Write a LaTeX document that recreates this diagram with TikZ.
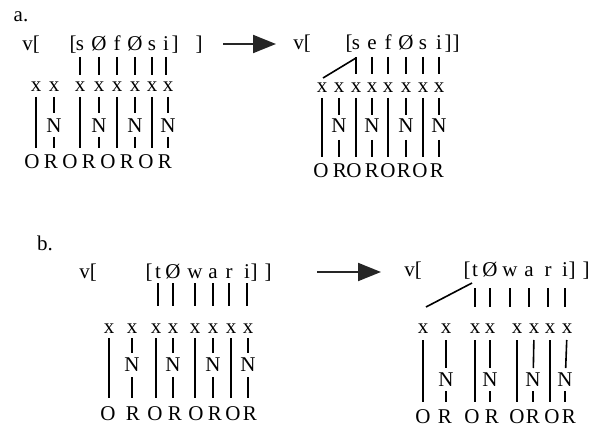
\documentclass[tikz,border=0pt]{standalone}
\usepackage{fontspec}
\setmainfont{Liberation Serif}
\usetikzlibrary{arrows.meta,calc}
\begin{document}
\begin{tikzpicture}[x=1pt,y=-1pt,
  lbl/.style={font=\fontsize{21}{24}\selectfont, inner sep=0pt, anchor=base},
  ln/.style={line width=1.6pt},
  bigarrow/.style={line width=2pt, -{Triangle[length=23pt,width=18pt]}, draw=black!85, fill=black!85}]
\useasboundingbox (0,0) rectangle (590,428);

% ---------------- panel a, left ----------------
\node[lbl] (alab) at (21,22) {a.};
\node[lbl] (Av) at (31,51) {v[};
\node[lbl] (Ab1) at (73,51) {[};
\foreach \n/\x/\t in {1/80/s,2/99/Ø,3/117/f,4/135/Ø,5/152/s,6/166/i}
  \node[lbl] (As\n) at (\x,51) {\t};
\node[lbl] (Ab2) at (175,51) {]};
\node[lbl] (Ab3) at (199,51) {]};
\foreach \n/\x in {1/36,2/54,3/80,4/99,5/117,6/135,7/152,8/168}
  \node[lbl] (Ax\n) at (\x,92) {x};
\foreach \n/\x in {1/54,2/99,3/135,4/168}
  \node[lbl] (AN\n) at (\x,132) {N};
\foreach \n/\x/\t in {1/32/O,2/51/R,3/70/O,4/89/R,5/108/O,6/127/R,7/146/O,8/165/R}
  \node[lbl] (AO\n) at (\x,168) {\t};
\foreach \n/\m in {1/3,2/4,3/5,4/6,5/7,6/8}
  \draw[ln,shorten <=6pt,shorten >=17pt] (As\n.base) -- (As\n.base |- Ax\m.base);
\foreach \n in {1,3,5,7}
  \draw[ln,shorten <=5pt,shorten >=20pt] (Ax\n.base) -- (Ax\n.base |- AO1.base);
\foreach \n/\m in {2/1,4/2,6/3,8/4}{
  \draw[ln,shorten <=5pt,shorten >=19pt] (Ax\n.base) -- (AN\m.base);
  \draw[ln,shorten <=5pt,shorten >=20pt] (AN\m.base) -- (AN\m.base |- AO1.base);
}

% arrow a
\coordinate (aa1) at (223,44);
\coordinate (aa2) at (276,44);
\draw[bigarrow] (aa1) -- (aa2);

% ---------------- panel a, right ----------------
\node[lbl] (Bv) at (302,50) {v[};
\node[lbl] (Bb1) at (349,50) {[};
\foreach \n/\x/\t in {1/356/s,2/372/e,3/388/f,4/406/Ø,5/423/s,6/439/i}
  \node[lbl] (Bs\n) at (\x,50) {\t};
\node[lbl] (Bb2) at (448,50) {]};
\node[lbl] (Bb3) at (456,50) {]};
\foreach \n/\x in {1/322,2/339,3/356,4/372,5/388,6/406,7/423,8/439}
  \node[lbl] (Bx\n) at (\x,93) {x};
\foreach \n/\x in {1/339,2/372,3/406,4/439}
  \node[lbl] (BN\n) at (\x,133) {N};
\foreach \n/\x/\t in {1/321/O,2/340/R,3/354/O,4/372/R,5/388/O,6/404/R,7/420/O,8/437/R}
  \node[lbl] (BO\n) at (\x,177) {\t};
\foreach \n/\m in {1/3,2/4,3/5,4/6,5/7,6/8}
  \draw[ln,shorten <=7pt,shorten >=19pt] (Bs\n.base) -- (Bs\n.base |- Bx\m.base);
\foreach \n in {1,3,5,7}
  \draw[ln,shorten <=5pt,shorten >=20pt] (Bx\n.base) -- (Bx\n.base |- BO1.base);
\foreach \n/\m in {2/1,4/2,6/3,8/4}{
  \draw[ln,shorten <=5pt,shorten >=18pt] (Bx\n.base) -- (BN\m.base);
  \draw[ln,shorten <=7pt,shorten >=20pt] (BN\m.base) -- (BN\m.base |- BO1.base);
}
\draw[ln] ($(Bs1.base)+(0,8)$) -- ($(Bx1.base)+(1,-15)$);

% ---------------- panel b, left ----------------
\node[lbl] (blab) at (45,251) {b.};
\node[lbl] (Cv) at (88,278) {v[};
\node[lbl] (Cb1) at (149,278) {[};
\foreach \n/\x/\t in {1/158/t,2/173/Ø,3/195/w,4/213/a,5/229/r,6/247/i}
  \node[lbl] (Cs\n) at (\x,278) {\t};
\node[lbl] (Cb2) at (254,278) {]};
\node[lbl] (Cb3) at (268,278) {]};
\foreach \n/\x in {1/109,2/132,3/156,4/173,5/195,6/213,7/231,8/248}
  \node[lbl] (Cx\n) at (\x,333) {x};
\foreach \n/\x in {1/132,2/173,3/213,4/248}
  \node[lbl] (CN\n) at (\x,371) {N};
\foreach \n/\x/\t in {1/108/O,2/133/R,3/155/O,4/175/R,5/196/O,6/215/R,7/233/O,8/250/R}
  \node[lbl] (CO\n) at (\x,420) {\t};
\foreach \n/\m in {1/3,2/4,3/5,4/6,5/7,6/8}
  \draw[ln,shorten <=5pt,shorten >=27pt] (Cs\n.base) -- (Cs\n.base |- Cx\m.base);
\foreach \n in {1,3,5,7}
  \draw[ln,shorten <=5pt,shorten >=22pt] (Cx\n.base) -- (Cx\n.base |- CO1.base);
\foreach \n/\m in {2/1,4/2,6/3,8/4}{
  \draw[ln,shorten <=5pt,shorten >=18pt] (Cx\n.base) -- (CN\m.base);
  \draw[ln,shorten <=6pt,shorten >=22pt] (CN\m.base) -- (CN\m.base |- CO1.base);
}

% arrow b
\coordinate (ba1) at (317,272);
\coordinate (ba2) at (381,272);
\draw[bigarrow] (ba1) -- (ba2);

% ---------------- panel b, right ----------------
\node[lbl] (Dv) at (413,276) {v[};
\node[lbl] (Db1) at (467,276) {[};
\foreach \n/\x/\t in {1/475/t,2/490/Ø,3/510/w,4/529/a,5/548/r,6/565/i}
  \node[lbl] (Ds\n) at (\x,276) {\t};
\node[lbl] (Db2) at (572,276) {]};
\node[lbl] (Db3) at (586,276) {]};
\foreach \n/\x in {1/423,2/446,3/475,4/490,5/517,6/534,7/550,8/567}
  \node[lbl] (Dx\n) at (\x,333) {x};
\foreach \n/\x in {1/446,2/490,3/533,4/565}
  \node[lbl] (DN\n) at (\x,386) {N};
\foreach \n/\x/\t in {1/423/O,2/445/R,3/472/O,4/492/R,5/517/O,6/533/R,7/552/O,8/569/R}
  \node[lbl] (DO\n) at (\x,423) {\t};
\foreach \n/\m in {1/3,2/4,3/5,4/6,5/7,6/8}
  \draw[ln,shorten <=12pt,shorten >=26pt] (Ds\n.base) -- (Ds\n.base |- Dx\m.base);
\foreach \n in {1,3,5,7}
  \draw[ln,shorten <=7pt,shorten >=21pt] (Dx\n.base) -- (Dx\n.base |- DO1.base);
\foreach \n/\m in {2/1,4/2,6/3,8/4}{
  \draw[ln,shorten <=7pt,shorten >=18pt] (Dx\n.base) -- (DN\m.base);
  \draw[ln,shorten <=5pt,shorten >=21pt] (DN\m.base) -- (DN\m.base |- DO1.base);
}
\draw[ln] ($(Ds1.base)+(-3,7)$) -- ($(Dx1.base)+(3,-26)$);
\end{tikzpicture}
\end{document}
